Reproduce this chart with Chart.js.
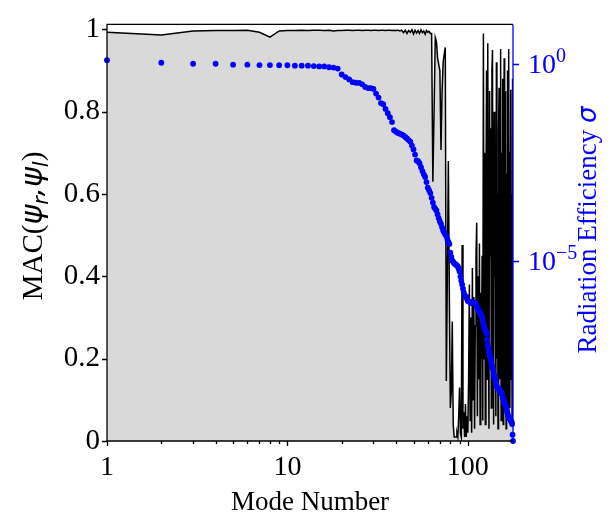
<!DOCTYPE html>
<html>
<head>
<meta charset="utf-8">
<title>MAC and radiation efficiency per mode</title>
<script src="https://cdn.jsdelivr.net/npm/chart.js@4/dist/chart.umd.min.js"></script>
<style>
  html, body { margin: 0; padding: 0; background: #fff; }
  canvas { display: block; }
</style>
</head>
<body>
<canvas id="chart" width="615" height="515"></canvas>
<script>
(function(Chart) {
  'use strict';

  // MAC(psi_r, psi_l) for modes 1..178
  var macValues = [
    0.993, 0.986, 0.996, 0.997, 0.997, 0.998, 0.993, 0.981, 0.996, 0.997,
    0.997, 0.998, 0.997, 0.998, 0.998, 0.997, 0.998, 0.996, 0.997, 0.997,
    0.998, 0.998, 0.997, 0.998, 0.998, 0.997, 0.998, 0.998, 0.997, 0.998,
    0.998, 0.997, 0.998, 0.998, 0.997, 0.998, 0.998, 0.997, 0.998, 0.997,
    0.998, 0.996, 0.998, 0.992, 0.998, 0.990, 0.997, 0.993, 0.999, 0.989,
    0.998, 0.991, 0.997, 0.990, 0.999, 0.992, 0.996, 0.988, 0.997, 0.993,
    0.995, 0.990, 0.990, 0.630, 0.800, 0.980, 0.970, 0.930, 0.915, 0.900,
    0.707, 0.850, 0.920, 0.940, 0.956, 0.146, 0.400, 0.680, 0.350, 0.080,
    0.120, 0.290, 0.040, 0.010, 0.010, 0.010, 0.020, 0.010, 0.060, 0.130,
    0.020, 0.010, 0.476, 0.030, 0.070, 0.010, 0.090, 0.010, 0.060, 0.020,
    0.15, 0.38, 0.05, 0.30, 0.02, 0.42, 0.10, 0.35, 0.03, 0.28,
    0.45, 0.53, 0.06, 0.40, 0.15, 0.48, 0.04, 0.36, 0.20, 0.45,
    0.05, 0.99, 0.20, 0.70, 0.04, 0.60, 0.90, 0.15, 0.966, 0.30,
    0.03, 0.85, 0.45, 0.76, 0.08, 0.90, 0.95, 0.25, 0.04, 0.80,
    0.40, 0.70, 0.06, 0.92, 0.20, 0.60, 0.03, 0.75, 0.858, 0.15,
    0.55, 0.952, 0.05, 0.70, 0.30, 0.88, 0.04, 0.60, 0.93, 0.10,
    0.45, 0.85, 0.03, 0.65, 0.20, 0.90, 0.06, 0.50, 0.952, 0.25,
    0.08, 0.70, 0.853, 0.15, 0.60, 0.04, 0.88, 0.40
  ];

  // radiation efficiency sigma for modes 1..178
  var sigmaValues = [
    1.26, 1.08, 1.02, 1.02, 0.966, 0.966, 0.944, 0.944, 0.933, 0.933,
    0.912, 0.912, 0.912, 0.891, 0.871, 0.871, 0.832, 0.813, 0.767, 0.543,
    0.468, 0.407, 0.347, 0.335, 0.331, 0.305, 0.263, 0.245, 0.245, 0.234,
    0.178, 0.141, 0.102, 0.0955, 0.0724, 0.0562, 0.0447, 0.0335, 0.0209, 0.0191,
    0.0178, 0.0170, 0.0162, 0.0155, 0.0141, 0.0129, 0.0117, 0.0107, 8.51e-3, 6.76e-3,
    5.01e-3, 3.55e-3, 3.39e-3, 3.02e-3, 2.40e-3, 1.91e-3, 1.58e-3, 1.35e-3, 1.0e-3, 7.24e-4,
    6.17e-4, 5.25e-4, 3.98e-4, 3.02e-4, 2.34e-4, 2.09e-4, 1.91e-4, 1.51e-4, 1.20e-4, 1.0e-4,
    8.71e-5, 7.08e-5, 5.89e-5, 5.25e-5, 4.68e-5, 4.27e-5, 3.55e-5, 3.02e-5, 2.69e-5, 1.62e-5,
    1.26e-5, 1.02e-5, 9.33e-6, 8.71e-6, 8.32e-6, 7.94e-6, 7.59e-6, 7.24e-6, 6.31e-6, 5.37e-6,
    3.98e-6, 3.09e-6, 2.51e-6, 1.95e-6, 1.58e-6, 1.29e-6, 1.26e-6, 1.23e-6, 1.07e-6, 9.55e-7,
    9.33e-7, 9.12e-7, 8.91e-7, 8.71e-7, 8.32e-7, 8.51e-7, 8.71e-7, 8.71e-7, 8.71e-7, 8.32e-7,
    7.59e-7, 6.92e-7, 6.31e-7, 5.89e-7, 5.37e-7, 5.01e-7, 4.68e-7, 4.37e-7, 3.98e-7, 3.72e-7,
    3.02e-7, 2.51e-7, 2.09e-7, 1.86e-7, 1.70e-7, 1.55e-7, 1.41e-7, 1.0e-7, 7.24e-8, 6.03e-8,
    4.90e-8, 4.17e-8, 3.55e-8, 3.02e-8, 2.51e-8, 2.19e-8, 1.91e-8, 1.70e-8, 1.29e-8, 1.17e-8,
    1.07e-8, 9.77e-9, 7.94e-9, 6.61e-9, 6.31e-9, 6.03e-9, 5.89e-9, 5.62e-9, 5.50e-9, 5.37e-9,
    4.90e-9, 4.68e-9, 4.47e-9, 4.27e-9, 4.07e-9, 3.31e-9, 3.16e-9, 2.88e-9, 2.63e-9, 2.40e-9,
    2.24e-9, 2.09e-9, 1.86e-9, 1.66e-9, 1.48e-9, 1.32e-9, 1.17e-9, 1.10e-9, 1.05e-9, 1.0e-9,
    9.55e-10, 9.12e-10, 8.71e-10, 8.32e-10, 7.94e-10, 7.08e-10, 3.80e-10, 2.63e-10
  ];

  var modeTicks   = [1, 2, 3, 4, 5, 6, 7, 8, 9, 10, 20, 30, 40, 50, 60, 70, 80, 90, 100];
  var modeLabels  = [1, 10, 100];
  var macTicks    = [0, 0.2, 0.4, 0.6, 0.8, 1];
  var sigmaTicks  = [1, 1e-5];
  var sigmaTickExponents = ['0', '\u22125'];

  var SERIF = "'Liberation Serif', 'DejaVu Serif', serif";
  var MATH  = "'DejaVu Sans', sans-serif";
  var BLUE  = '#0000ff';

  function font(size, italic, family) {
    return (italic ? 'italic ' : '') + size + 'px ' + (family || SERIF);
  }

  function toPoints(values) {
    return values.map(function(v, i) { return { x: i + 1, y: v }; });
  }

  // draws a run of [text, font, dy] pieces on one baseline
  function drawRich(ctx, parts, x, y, centered) {
    var total = 0;
    parts.forEach(function(p) {
      ctx.font = p[1];
      total += ctx.measureText(p[0]).width;
    });
    var cx = centered ? x - total / 2 : x;
    parts.forEach(function(p) {
      ctx.font = p[1];
      ctx.fillText(p[0], cx, y + (p[2] || 0));
      cx += ctx.measureText(p[0]).width;
    });
  }

  var decorPlugin = {
    id: 'decor',
    afterDraw: function(chart) {
      var ctx  = chart.ctx;
      var area = chart.chartArea;
      var xs = chart.scales.x, ys = chart.scales.y, y2 = chart.scales.y2;

      ctx.save();
      ctx.lineWidth = 1.3;
      ctx.textAlign = 'left';
      ctx.textBaseline = 'alphabetic';

      // frame: black on three sides, blue on the right
      ctx.strokeStyle = '#000';
      ctx.beginPath();
      ctx.moveTo(area.right, area.top);
      ctx.lineTo(area.left, area.top);
      ctx.lineTo(area.left, area.bottom);
      ctx.lineTo(area.right, area.bottom);
      ctx.stroke();

      ctx.beginPath();
      macTicks.forEach(function(v) {
        var py = Math.round(ys.getPixelForValue(v)) + 0.5;
        ctx.moveTo(area.left - 5, py);
        ctx.lineTo(area.left, py);
      });
      modeTicks.forEach(function(v) {
        var px = Math.round(xs.getPixelForValue(v)) + 0.5;
        var len = modeLabels.indexOf(v) >= 0 ? 5 : 3;
        ctx.moveTo(px, area.bottom);
        ctx.lineTo(px, area.bottom + len);
      });
      ctx.stroke();

      ctx.strokeStyle = BLUE;
      ctx.beginPath();
      ctx.moveTo(area.right, area.top);
      ctx.lineTo(area.right, area.bottom);
      sigmaTicks.forEach(function(v) {
        var py = Math.round(y2.getPixelForValue(v)) + 0.5;
        ctx.moveTo(area.right, py);
        ctx.lineTo(area.right + 6, py);
      });
      ctx.stroke();

      // right tick labels 10^0, 10^-5
      ctx.fillStyle = BLUE;
      sigmaTicks.forEach(function(v, i) {
        var py = y2.getPixelForValue(v);
        drawRich(ctx, [
          ['10', font(28)],
          [sigmaTickExponents[i], font(20), -11]
        ], area.right + 15, py + 9, false);
      });

      // x title
      ctx.fillStyle = '#000';
      drawRich(ctx, [['Mode Number', font(27)]], (area.left + area.right) / 2, 510, true);

      // left title MAC(psi_r, psi_l)
      ctx.save();
      ctx.translate(42, 226);
      ctx.rotate(-Math.PI / 2);
      drawRich(ctx, [
        ['MAC(', font(29)],
        ['\u03c8', font(30, true, MATH)],
        ['r', font(21, true, MATH), 6],
        [',', font(29, true, MATH)],
        ['\u03c8', font(30, true, MATH)],
        ['l', font(21, true, MATH), 6],
        [')', font(29)]
      ], 0, 0, true);
      ctx.restore();

      // right title
      ctx.save();
      ctx.fillStyle = BLUE;
      ctx.translate(596, 230);
      ctx.rotate(-Math.PI / 2);
      drawRich(ctx, [
        ['Radiation Efficiency ', font(27)],
        ['\u03c3', font(26, true, MATH)]
      ], 0, 0, true);
      ctx.restore();

      ctx.restore();
    }
  };

  new Chart(document.getElementById('chart'), {
    type: 'line',
    data: {
      datasets: [{
        label: 'Radiation efficiency',
        data: toPoints(sigmaValues),
        yAxisID: 'y2',
        showLine: false,
        pointRadius: 2.9,
        pointBorderWidth: 0,
        pointBackgroundColor: BLUE,
        clip: false,
        order: 0
      }, {
        label: 'MAC',
        data: toPoints(macValues),
        yAxisID: 'y',
        borderColor: '#000',
        borderWidth: 1.5,
        backgroundColor: '#d9d9d9',
        fill: 'origin',
        pointRadius: 0,
        tension: 0,
        order: 1
      }]
    },
    options: {
      responsive: false,
      animation: false,
      devicePixelRatio: 1,
      layout: { padding: { top: 17, left: 0, right: 0, bottom: 0 } },
      plugins: {
        legend: { display: false },
        tooltip: { enabled: false }
      },
      scales: {
        x: {
          type: 'logarithmic',
          min: 1,
          max: 178,
          grid: { display: false, drawTicks: false },
          border: { display: false },
          afterBuildTicks: function(scale) {
            scale.ticks = modeTicks.map(function(v) { return { value: v }; });
          },
          afterFit: function(scale) { scale.height = 74; },
          ticks: {
            autoSkip: false,
            maxRotation: 0,
            padding: 10,
            color: '#000',
            font: { family: SERIF, size: 28 },
            callback: function(value) {
              return modeLabels.indexOf(value) >= 0 ? String(value) : '';
            }
          }
        },
        y: {
          position: 'left',
          min: 0,
          max: 1.012,
          grid: { display: false, drawTicks: false },
          border: { display: false },
          afterBuildTicks: function(scale) {
            scale.ticks = macTicks.map(function(v) { return { value: v }; });
          },
          afterFit: function(scale) { scale.width = 107; },
          ticks: {
            padding: 7,
            color: '#000',
            font: { family: SERIF, size: 29 },
            callback: function(value) { return String(value); }
          }
        },
        y2: {
          type: 'logarithmic',
          position: 'right',
          min: 2.63e-10,
          max: 10.2,
          grid: { display: false, drawTicks: false },
          border: { display: false },
          afterBuildTicks: function(scale) {
            scale.ticks = sigmaTicks.map(function(v) { return { value: v }; });
          },
          afterFit: function(scale) { scale.width = 102; },
          ticks: { display: false }
        }
      }
    },
    plugins: [decorPlugin]
  });

}(Chart));
</script>
</body>
</html>
